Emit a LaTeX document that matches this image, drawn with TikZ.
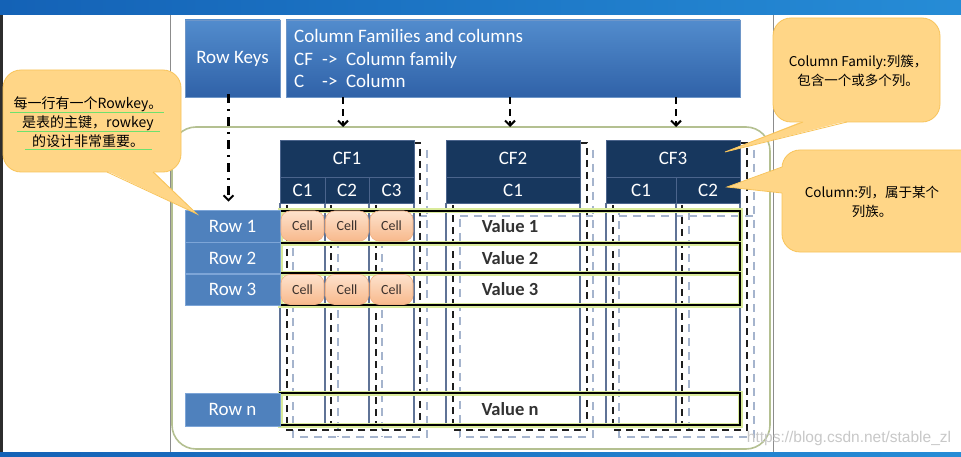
\documentclass[tikz,border=0pt]{standalone}
\usepackage{fontspec}
\setmainfont{Carlito}
\newfontfamily\cjk{Noto Sans CJK SC}
\newfontfamily\wmfont{Liberation Sans}
\usetikzlibrary{arrows.meta}
\definecolor{navy}{RGB}{23,55,94}
\definecolor{navyedge}{RGB}{75,100,140}
\definecolor{rowblue}{RGB}{79,129,189}
\definecolor{rowedge}{RGB}{125,165,215}
\definecolor{boxtop}{RGB}{82,140,205}
\definecolor{boxbot}{RGB}{48,98,168}
\definecolor{boxedge}{RGB}{110,150,200}
\definecolor{celltop}{RGB}{253,226,205}
\definecolor{cellbot}{RGB}{248,185,140}
\definecolor{celledge}{RGB}{240,175,130}
\definecolor{celltext}{RGB}{60,50,45}
\definecolor{callfill}{RGB}{255,214,135}
\definecolor{calldraw}{RGB}{248,196,90}
\definecolor{colline}{RGB}{95,115,150}
\definecolor{shadegray}{RGB}{165,180,205}
\definecolor{dashblack}{RGB}{30,30,30}
\definecolor{glow}{RGB}{218,235,155}
\definecolor{framegreen}{RGB}{180,192,145}
\definecolor{valtext}{RGB}{50,50,50}
\definecolor{ulgreen}{RGB}{110,225,110}
\definecolor{barleft}{RGB}{20,98,182}
\definecolor{barright}{RGB}{38,140,214}
\definecolor{strip}{RGB}{45,45,45}
\definecolor{edgegray}{RGB}{140,140,140}
\definecolor{wmgray}{RGB}{200,200,200}
\tikzset{
  bluebox/.style={top color=boxtop, bottom color=boxbot, draw=boxedge, line width=0.6, text=white, inner sep=0},
  hdr/.style={fill=navy, draw=navyedge, line width=0.9, text=white, font=\fontsize{19}{22}\selectfont, inner sep=0},
  rowbox/.style={fill=rowblue, draw=rowedge, line width=0.6, text=white, font=\fontsize{19}{22}\selectfont, minimum width=95, inner sep=0},
  cellbox/.style={rounded corners=9, top color=celltop, bottom color=cellbot, draw=celledge, line width=0.6, font=\fontsize{14}{16}\selectfont, text=celltext, minimum width=43, minimum height=30, inner sep=0},
  band/.style={draw=black, line width=1.3, preaction={draw=glow, line width=5}, minimum width=460, inner sep=0},
  valnode/.style={font=\fontsize{18.5}{22}\selectfont\bfseries, text=valtext, inner sep=0},
  calloutbox/.style={fill=callfill, draw=calldraw, line width=0.8, rounded corners=18, inner sep=0},
  darr/.style={line width=2.2, dash pattern=on 7pt off 5pt, -{Straight Barb[length=5pt,width=10pt,line width=2pt]}},
  ddarr/.style={line width=2.2, dash pattern=on 9pt off 6pt on 2pt off 6pt, -{Straight Barb[length=5pt,width=10pt,line width=2pt]}},
  bdash/.style={draw=dashblack, line width=1.8, dash pattern=on 7pt off 5pt},
  gdash/.style={draw=shadegray, line width=1.8, dash pattern=on 8pt off 6pt},
  cline/.style={draw=colline, line width=1.6},
}
\begin{document}
\begin{tikzpicture}[x=1pt,y=-1pt]
\useasboundingbox (0,0) rectangle (961,457);
\fill[white] (0,0) rectangle (961,457);
% top and bottom bars
\shade[left color=barleft, right color=barright] (0,0) rectangle (961,15);
\shade[left color=barleft, right color=barright] (0,452) rectangle (961,457);
\fill[strip] (0,15) rectangle (2.5,452);
% slide edges
\draw[edgegray, line width=1] (170,15) -- (170,452);
\draw[edgegray, line width=1] (773,15) -- (773,452);
% big frame
\draw[framegreen, line width=1.6, rounded corners=24] (172,127) rectangle (770,449);

% top boxes
\node[bluebox, minimum width=95, minimum height=77, font=\fontsize{19}{22}\selectfont] (rk) at (232.5,58.5) {Row Keys};
\node[bluebox, minimum width=454, minimum height=77] (cfb) at (513,58.5) {};
\node[anchor=north west, inner sep=0, text=white, font=\fontsize{19}{22.5}\selectfont] (cftxt) at (294,27)
  {\begin{tabular}{@{}p{28pt}@{}l@{}}\multicolumn{2}{@{}l@{}}{Column Families and columns}\\ CF & ->\ \ Column family\\ C & ->\ \ Column\end{tabular}};

% dashed shadows
% CF1
\draw[gdash] (427,150) -- (427,437) -- (293,437) -- (293,212);
\draw[gdash] (338,212) -- (338,437);
\draw[gdash] (382,212) -- (382,437);
\draw[gdash] (293,216) -- (427,216);
\draw[bdash] (414,143) -- (420,143) -- (420,430) -- (287,430) -- (287,205);
\draw[bdash] (331,205) -- (331,430);
\draw[bdash] (376,205) -- (376,430);
% CF2
\draw[gdash] (593,150) -- (593,437) -- (460,437) -- (460,212);
\draw[gdash] (460,216) -- (593,216);
\draw[bdash] (580,143) -- (587,143) -- (587,430) -- (453,430) -- (453,205);
% CF3
\draw[gdash] (754,150) -- (754,437) -- (619,437) -- (619,212);
\draw[gdash] (689,212) -- (689,437);
\draw[gdash] (619,216) -- (754,216);
\draw[bdash] (740,143) -- (747,143) -- (747,430) -- (613,430) -- (613,205);
\draw[bdash] (682,205) -- (682,430);

% column solid lines
\foreach \cx in {280,325,369,414,446,580,606,676,740}
  \draw[cline] (\cx,203) -- (\cx,426);

% headers
\node[hdr, minimum width=134, minimum height=37] (cf1) at (347,158.5) {CF1};
\node[hdr, minimum width=45, minimum height=26] (cf1c1) at (302.5,190) {C1};
\node[hdr, minimum width=44, minimum height=26] (cf1c2) at (347,190) {C2};
\node[hdr, minimum width=45, minimum height=26] (cf1c3) at (391.5,190) {C3};
\node[hdr, minimum width=134, minimum height=37] (cf2) at (513,158.5) {CF2};
\node[hdr, minimum width=134, minimum height=26] (cf2c1) at (513,190) {C1};
\node[hdr, minimum width=134, minimum height=37] (cf3) at (673,158.5) {CF3};
\node[hdr, minimum width=70, minimum height=26] (cf3c1) at (641,190) {C1};
\node[hdr, minimum width=64, minimum height=26] (cf3c2) at (708,190) {C2};

% row bands
\node[band, minimum height=32] (b1) at (510,227) {};
\node[band, minimum height=30] (b2) at (510,258) {};
\node[band, minimum height=32] (b3) at (510,289) {};
\node[band, minimum height=32] (bn) at (510,409) {};

% row keys
\node[rowbox, minimum height=32] (r1) at (232.5,226) {Row 1};
\node[rowbox, minimum height=31] (r2) at (232.5,258) {Row 2};
\node[rowbox, minimum height=31] (r3) at (232.5,289.5) {Row 3};
\node[rowbox, minimum height=33] (rn) at (232.5,409.5) {Row n};

% cells
\node[cellbox] (c11) at (302.5,226) {Cell};
\node[cellbox] (c12) at (347,226) {Cell};
\node[cellbox] (c13) at (391.5,226) {Cell};
\node[cellbox] (c31) at (302.5,289.5) {Cell};
\node[cellbox] (c32) at (347,289.5) {Cell};
\node[cellbox] (c33) at (391.5,289.5) {Cell};

% values
\node[valnode] (v1) at (510,226) {Value 1};
\node[valnode] (v2) at (510,258) {Value 2};
\node[valnode] (v3) at (510,289) {Value 3};
\node[valnode] (vn) at (510,409) {Value n};

% arrows
\coordinate (t1) at (343,127);
\coordinate (t2) at (510,127);
\coordinate (t3) at (676,127);
\draw[ddarr] ([xshift=-4pt,yshift=3pt]rk.south) -- ([xshift=-4pt,yshift=8pt]r1.north);
\draw[darr] (cfb.south -| t1) -- (t1);
\draw[darr] (cfb.south -| t2) -- (t2);
\draw[darr] (cfb.south -| t3) -- (t3);

% left callout
\node[calloutbox, minimum width=178, minimum height=102] (cl) at (92,121) {};
\fill[callfill] (107,171) -- (197,214) -- (153,171) -- cycle;
\draw[calldraw, line width=0.8] (107,172) -- (197,214) -- (153,172);
\node[inner sep=0, align=center, font=\cjk\fontsize{14}{19}\selectfont] (cltxt) at (88,122) {每一行有一个Rowkey。\\是表的主键，rowkey\\的设计非常重要。};
\draw[ulgreen, line width=1] (10,112.5) -- (164,112.5);
\draw[ulgreen, line width=1] (17,131.5) -- (160,131.5);
\draw[ulgreen, line width=1] (25,149.5) -- (152,149.5);

% top right callout
\node[calloutbox, minimum width=167, minimum height=104] (cr1) at (856.5,70) {};
\fill[callfill] (803,121) -- (725,152) -- (847,121) -- cycle;
\draw[calldraw, line width=0.8] (803,122) -- (725,152) -- (847,122);
\node[inner sep=0, align=center, font=\cjk\fontsize{13.5}{19}\selectfont] (cr1txt) at (858,70.5) {Column Family:列簇，\\包含一个或多个列。};

% lower right callout
\node[calloutbox, minimum width=205, minimum height=102] (cr2) at (884.5,201) {};
\fill[callfill] (783,167) -- (727,187) -- (783,193) -- cycle;
\draw[calldraw, line width=0.8] (782,167) -- (727,187) -- (782,193);
\node[inner sep=0, align=center, font=\cjk\fontsize{13.5}{19.5}\selectfont] (cr2txt) at (872,202) {Column:列，属于某个\\列族。};

% watermark
\node[inner sep=0, text=wmgray, font=\wmfont\fontsize{15.5}{18}\selectfont] (wm) at (849,438) {https://blog.csdn.net/stable\_zl};
\end{tikzpicture}
\end{document}
